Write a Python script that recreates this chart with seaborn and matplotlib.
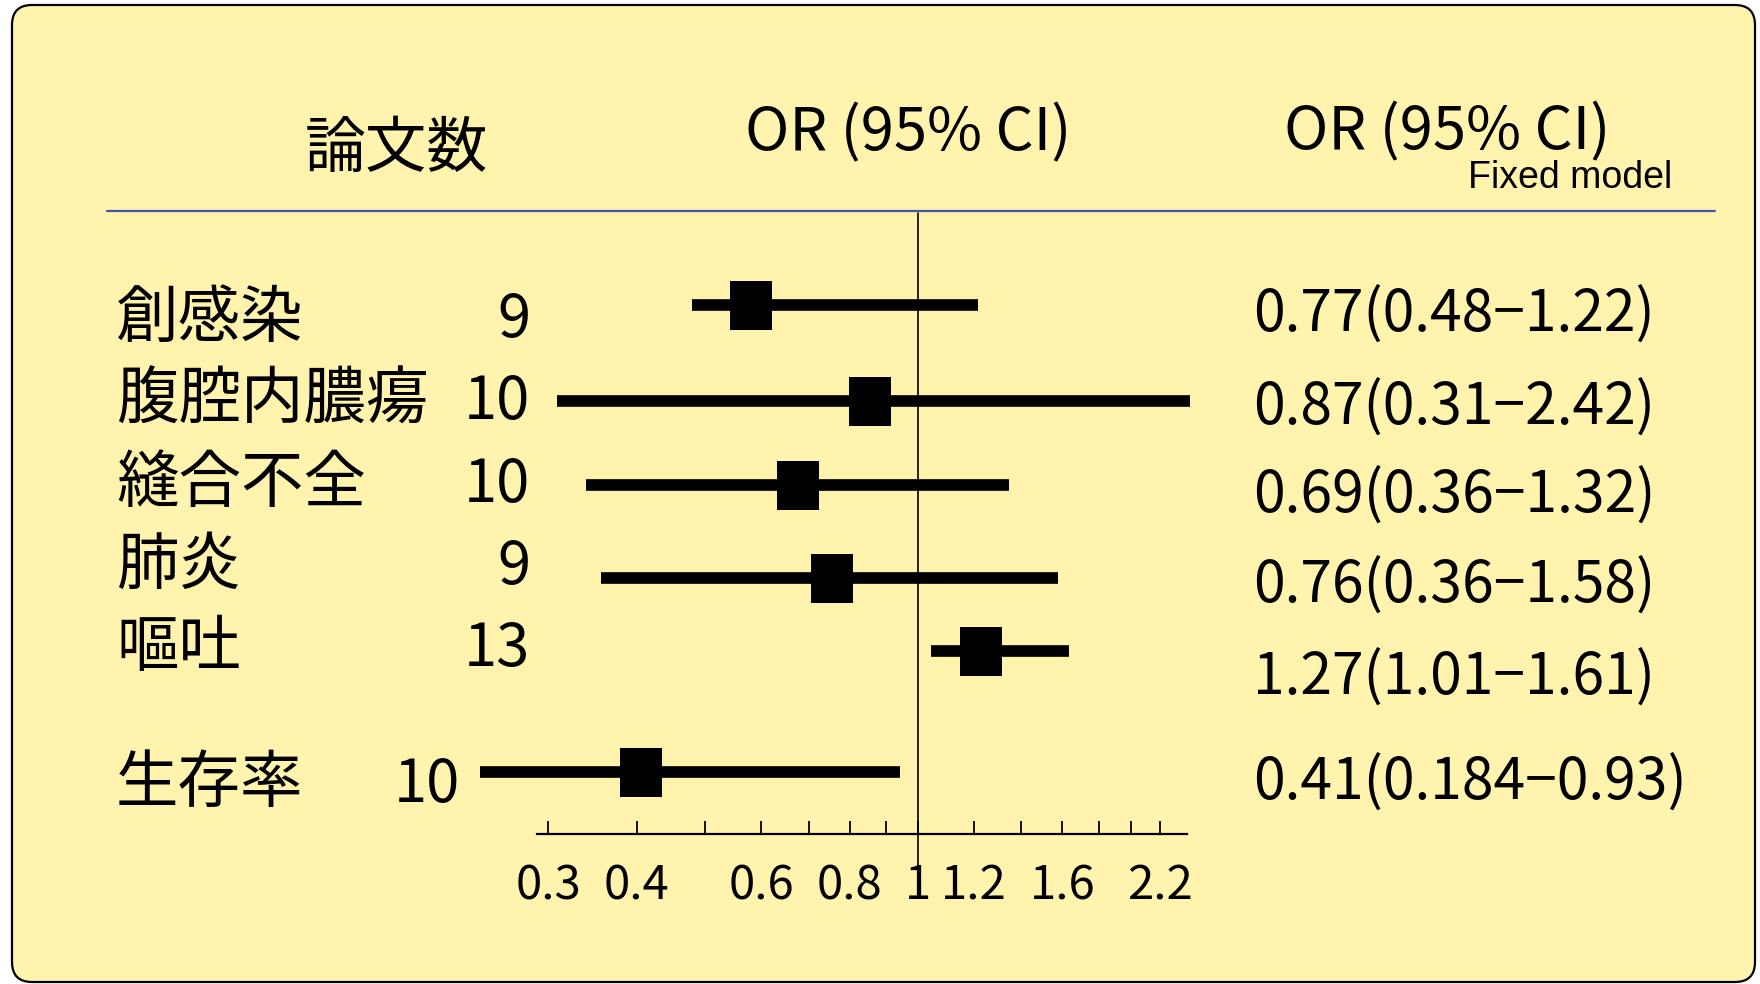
import numpy as np
import pandas as pd
import matplotlib
matplotlib.use("Agg")
import matplotlib.pyplot as plt
import matplotlib.ticker as mticker
import seaborn as sns
from matplotlib.patches import FancyBboxPatch
from matplotlib.lines import Line2D
from matplotlib.transforms import IdentityTransform

# ---------------- data ----------------
outcomes = ["創感染", "腹腔内膿瘍", "縫合不全", "肺炎", "嘔吐", "生存率"]
n_papers = [9, 10, 10, 9, 13, 10]
# odds ratios / CIs as drawn in the picture
or_point = [0.58, 0.855, 0.676, 0.755, 1.227, 0.406]
ci_low = [0.479, 0.308, 0.339, 0.356, 1.041, 0.240]
ci_high = [1.216, 2.42, 1.345, 1.576, 1.634, 0.943]
or_text = ["0.77(0.48−1.22)", "0.87(0.31−2.42)", "0.69(0.36−1.32)",
           "0.76(0.36−1.58)", "1.27(1.01−1.61)", "0.41(0.184−0.93)"]
tick_values = [0.3, 0.4, 0.5, 0.6, 0.7, 0.8, 0.9, 1, 1.2, 1.4, 1.6, 1.8, 2.0, 2.2]
tick_labels = ["0.3", "0.4", "", "0.6", "", "0.8", "", "1", "1.2", "", "1.6", "", "", "2.2"]

# ---------------- layout (pixels, from top of canvas) ----------------
W, H = 1760, 984
row_line_y = [305, 401, 485, 578, 651, 772]
label_base_y = [337, 419, 502, 584, 666, 802]
num_right_x = [530, 530, 530, 530, 530, 460]
ortext_base_y = [332, 425, 513, 603, 695, 800]
ax_left, ax_right, ax_top, ax_bottom = 537, 1187, 213, 834

sns.set_theme(style="white")
plt.rcParams['font.family'] = ['Noto Sans CJK JP', 'DejaVu Sans']

fig = plt.figure(figsize=(W / 100, H / 100), dpi=100)
fig.patch.set_facecolor('white')

panel = FancyBboxPatch((12, 2), 1743, 977, boxstyle="round,pad=0,rounding_size=20",
                       transform=IdentityTransform(), facecolor="#FFF3AE",
                       edgecolor="black", linewidth=1.6, zorder=0)
fig.add_artist(panel)

ax = fig.add_axes([ax_left / W, 1 - ax_bottom / H, (ax_right - ax_left) / W, (ax_bottom - ax_top) / H])
ax.set_facecolor('none')
ax.set_xscale('log')
ax.set_xlim(0.289, 2.40)
ax.set_ylim(ax_bottom, ax_top)

df = pd.DataFrame(dict(outcome=outcomes, OR=or_point, lo=ci_low, hi=ci_high, y=row_line_y))

ax.hlines(df["y"], df["lo"], df["hi"], color='black', lw=8.4, clip_on=False, zorder=2)
box = [(-0.43, -0.5), (0.43, -0.5), (0.43, 0.5), (-0.43, 0.5), (-0.43, -0.5)]
sns.scatterplot(data=df, x='OR', y='y', marker=box, s=(49 * 0.72) ** 2, color='black',
                edgecolor='black', linewidth=0, ax=ax, legend=False, clip_on=False, zorder=3)

ax.axvline(1, ymin=(ax_bottom - 870) / (ax_bottom - ax_top), ymax=1, color='black', lw=1.2,
           clip_on=False, zorder=1)

for s in ['top', 'left', 'right']:
    ax.spines[s].set_visible(False)
ax.spines['bottom'].set_linewidth(1.6)
ax.spines['bottom'].set_color('black')

ax.xaxis.set_major_locator(mticker.FixedLocator(tick_values))
ax.xaxis.set_major_formatter(mticker.FixedFormatter(tick_labels))
ax.xaxis.set_minor_locator(mticker.NullLocator())
ax.tick_params(axis='x', which='major', direction='in', length=9.4, width=1.3, pad=20,
               labelsize=34, bottom=True, colors='black')
ax.set_yticks([])
ax.set_xlabel("")
ax.set_ylabel("")
ax.grid(False)


def ftext(x, y, s, **kw):
    return fig.text(x / W, 1 - y / H, s, **kw)


# headers
ftext(305, 167, "論文数", fontsize=44, ha='left', va='baseline', color='black')
ftext(745, 150, "OR (95% CI)", fontsize=43, ha='left', va='baseline', color='black')
ftext(1284, 149, "OR (95% CI)", fontsize=43, ha='left', va='baseline', color='black')
ftext(1468, 188, "Fixed model", fontsize=27, ha='left', va='baseline', color='black',
      family=['Liberation Sans', 'Noto Sans CJK JP', 'DejaVu Sans'])

fig.add_artist(Line2D([107 / W, 1715 / W], [1 - 211 / H, 1 - 211 / H], color='#4652A6', lw=1.6,
                      transform=fig.transFigure))

for name, n, by, nx, txt, ty in zip(outcomes, n_papers, label_base_y, num_right_x, or_text, ortext_base_y):
    ftext(116, by, name, fontsize=45, ha='left', va='baseline', color='black')
    ftext(nx, by, str(n), fontsize=43, ha='right', va='baseline', color='black')
    ftext(1253, ty, txt, fontsize=41, ha='left', va='baseline', color='black')

fig.savefig('out.png', dpi=100, facecolor='white')
